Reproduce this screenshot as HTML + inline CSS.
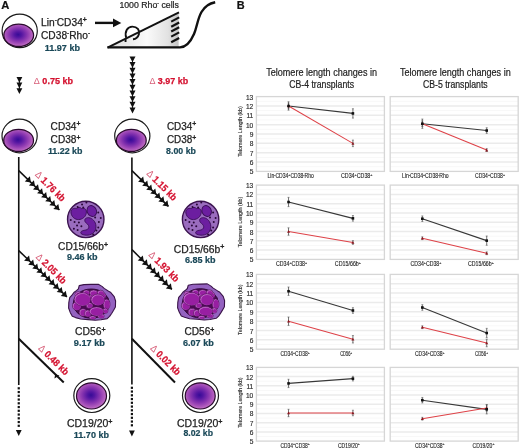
<!DOCTYPE html>
<html><head><meta charset="utf-8"><style>
html,body{margin:0;padding:0;background:#fff;}
body{width:520px;height:448px;overflow:hidden;}
svg{display:block;font-family:"Liberation Sans", sans-serif;will-change:transform;}
</style></head><body>
<svg width="520" height="448" viewBox="0 0 520 448">
<defs>
<radialGradient id="nuc" cx="0.48" cy="0.47" r="0.55">
 <stop offset="0" stop-color="#360c96"/>
 <stop offset="0.22" stop-color="#5416a2"/>
 <stop offset="0.55" stop-color="#8a36b0"/>
 <stop offset="0.85" stop-color="#b45ebe"/>
 <stop offset="1" stop-color="#ca82cc"/>
</radialGradient>
<linearGradient id="tri" x1="0" y1="0" x2="1" y2="0">
 <stop offset="0" stop-color="#dcdcdc"/>
 <stop offset="0.55" stop-color="#fafafa"/>
 <stop offset="0.85" stop-color="#e2e2e2"/>
 <stop offset="1" stop-color="#c4c4c4"/>
</linearGradient>
</defs>
<text x="1.2" y="8.6" font-size="10.6" font-weight="700" fill="#111" stroke="#111" stroke-width="0.2" text-anchor="start" textLength="8.1" lengthAdjust="spacingAndGlyphs" >A</text>
<text x="236.7" y="8.8" font-size="10.4" font-weight="700" fill="#111" stroke="#111" stroke-width="0.2" text-anchor="start" textLength="7.9" lengthAdjust="spacingAndGlyphs" >B</text>
<ellipse cx="19.7" cy="30.9" rx="17.6" ry="16.8" fill="#fff" stroke="#1a1a1a" stroke-width="1.2"/>
<ellipse cx="18.7" cy="35.3" rx="14.9" ry="11.1" fill="url(#nuc)" stroke="#2a0a2e" stroke-width="1.25"/>
<ellipse cx="19.6" cy="136.0" rx="17.6" ry="16.8" fill="#fff" stroke="#1a1a1a" stroke-width="1.2"/>
<ellipse cx="18.6" cy="140.4" rx="14.9" ry="11.1" fill="url(#nuc)" stroke="#2a0a2e" stroke-width="1.25"/>
<ellipse cx="132.3" cy="136.0" rx="17.6" ry="16.8" fill="#fff" stroke="#1a1a1a" stroke-width="1.2"/>
<ellipse cx="131.3" cy="140.4" rx="14.9" ry="11.1" fill="url(#nuc)" stroke="#2a0a2e" stroke-width="1.25"/>
<text x="41" y="25.8" font-size="10.3" fill="#222222" stroke="#222222" stroke-width="0.25" textLength="45.9" lengthAdjust="spacingAndGlyphs">Lin<tspan font-size="6.4" stroke-width="0.3" dy="-4.0">-</tspan><tspan dy="4.0">CD34</tspan><tspan font-size="7" stroke-width="0.4" dy="-3.4">+</tspan></text>
<text x="41" y="39.2" font-size="10.3" fill="#222222" stroke="#222222" stroke-width="0.25" textLength="49.0" lengthAdjust="spacingAndGlyphs">CD38<tspan font-size="6.4" stroke-width="0.3" dy="-4.0">-</tspan><tspan dy="4.0">Rho</tspan><tspan font-size="6.4" stroke-width="0.3" dy="-4.0">-</tspan></text>
<text x="44.7" y="51.3" font-size="8.6" font-weight="700" fill="#1a4858" stroke="#1a4858" stroke-width="0.2" text-anchor="start" textLength="35.3" lengthAdjust="spacingAndGlyphs" >11.97 kb</text>
<text x="50.6" y="129.5" font-size="10.3" fill="#222222" stroke="#222222" stroke-width="0.25" textLength="29.9" lengthAdjust="spacingAndGlyphs">CD34<tspan font-size="7" stroke-width="0.4" dy="-3.4">+</tspan></text>
<text x="50.6" y="143.2" font-size="10.3" fill="#222222" stroke="#222222" stroke-width="0.25" textLength="29.9" lengthAdjust="spacingAndGlyphs">CD38<tspan font-size="7" stroke-width="0.4" dy="-3.4">+</tspan></text>
<text x="166.9" y="129.5" font-size="10.3" fill="#222222" stroke="#222222" stroke-width="0.25" textLength="29.4" lengthAdjust="spacingAndGlyphs">CD34<tspan font-size="7" stroke-width="0.4" dy="-3.4">+</tspan></text>
<text x="166.9" y="143.2" font-size="10.3" fill="#222222" stroke="#222222" stroke-width="0.25" textLength="29.4" lengthAdjust="spacingAndGlyphs">CD38<tspan font-size="7" stroke-width="0.4" dy="-3.4">+</tspan></text>
<text x="47.9" y="153.9" font-size="8.6" font-weight="700" fill="#1a4858" stroke="#1a4858" stroke-width="0.2" text-anchor="start" textLength="34.6" lengthAdjust="spacingAndGlyphs" >11.22 kb</text>
<text x="166.1" y="153.9" font-size="8.6" font-weight="700" fill="#1a4858" stroke="#1a4858" stroke-width="0.2" text-anchor="start" textLength="29.8" lengthAdjust="spacingAndGlyphs" >8.00 kb</text>
<line x1="95" y1="22.9" x2="114.5" y2="22.9" stroke="#111" stroke-width="2.4"/>
<polygon points="113,18.6 121.3,22.9 113,27.2" fill="#111"/>
<text x="119.4" y="7.7" font-size="8.6" fill="#222222" stroke="#222222" stroke-width="0.2" textLength="59.5" lengthAdjust="spacingAndGlyphs">1000 Rho<tspan font-size="5" dy="-3">-</tspan><tspan dy="3"> cells</tspan></text>
<polygon points="108,47.5 178.6,12.6 178.6,47.5" fill="url(#tri)"/>
<line x1="107.5" y1="47.6" x2="179" y2="12.4" stroke="#111" stroke-width="2"/>
<path d="M107.5,47.4 L180,47.4 C186,47.2 190.5,42 194,34 C197,27 197.5,19 201.5,12 C205,6 210,3.3 215.2,2.3" fill="none" stroke="#111" stroke-width="2.4"/>
<line x1="171.2" y1="21.599999999999998" x2="179.2" y2="17.4" stroke="#111" stroke-width="2.1"/>
<line x1="171.2" y1="26.7" x2="179.2" y2="22.5" stroke="#111" stroke-width="2.1"/>
<line x1="171.2" y1="31.5" x2="179.2" y2="27.3" stroke="#111" stroke-width="2.1"/>
<line x1="171.2" y1="36.6" x2="179.2" y2="32.4" stroke="#111" stroke-width="2.1"/>
<line x1="171.2" y1="42.2" x2="179.2" y2="38.0" stroke="#111" stroke-width="2.1"/>
<path d="M126.2,37.8 C124.3,31.5 127.6,26.6 132.4,26.6 C137.3,26.6 140,30.3 138.9,34.2 C137.9,37.5 135.2,39.0 133.0,39.2" fill="none" stroke="#111" stroke-width="1.9"/>
<rect x="124.6" y="39.2" width="1.9" height="2.8" fill="#111"/>
<polygon points="16.5,77.0 22.299999999999997,77.0 19.4,82.8" fill="#111"/>
<polygon points="16.5,82.6 22.299999999999997,82.6 19.4,88.39999999999999" fill="#111"/>
<polygon points="16.5,88.2 22.299999999999997,88.2 19.4,94.0" fill="#111"/>
<polygon points="129.5,56.4 135.5,56.4 132.5,62.3" fill="#111"/>
<polygon points="129.5,62.08 135.5,62.08 132.5,67.98" fill="#111"/>
<polygon points="129.5,67.75999999999999 135.5,67.75999999999999 132.5,73.66" fill="#111"/>
<polygon points="129.5,73.44 135.5,73.44 132.5,79.34" fill="#111"/>
<polygon points="129.5,79.12 135.5,79.12 132.5,85.02000000000001" fill="#111"/>
<polygon points="129.5,84.8 135.5,84.8 132.5,90.7" fill="#111"/>
<polygon points="129.5,90.47999999999999 135.5,90.47999999999999 132.5,96.38" fill="#111"/>
<polygon points="129.5,96.16 135.5,96.16 132.5,102.06" fill="#111"/>
<polygon points="129.5,101.84 135.5,101.84 132.5,107.74000000000001" fill="#111"/>
<polygon points="129.5,107.52 135.5,107.52 132.5,113.42" fill="#111"/>
<line x1="19.4" y1="78" x2="19.4" y2="92" stroke="#111" stroke-width="1"/>
<line x1="132.5" y1="57.5" x2="132.5" y2="110" stroke="#111" stroke-width="1"/>
<text x="33.8" y="84.0" font-size="8.7" font-weight="700" fill="#d41230" stroke="#d41230" stroke-width="0.25" text-anchor="start" textLength="39.2" lengthAdjust="spacingAndGlyphs"><tspan font-weight="400" fill="#d8607a" stroke="none">Δ</tspan> 0.75 kb</text>
<text x="149.4" y="84.0" font-size="8.7" font-weight="700" fill="#d41230" stroke="#d41230" stroke-width="0.25" text-anchor="start" textLength="38.7" lengthAdjust="spacingAndGlyphs"><tspan font-weight="400" fill="#d8607a" stroke="none">Δ</tspan> 3.97 kb</text>
<line x1="18.75" y1="157" x2="18.75" y2="385" stroke="#111" stroke-width="1.6"/>
<rect x="17.65" y="387.2" width="2.2" height="2.2" fill="#111"/>
<rect x="17.65" y="390.95" width="2.2" height="2.2" fill="#111"/>
<rect x="17.65" y="394.7" width="2.2" height="2.2" fill="#111"/>
<rect x="17.65" y="398.45" width="2.2" height="2.2" fill="#111"/>
<rect x="17.65" y="402.2" width="2.2" height="2.2" fill="#111"/>
<rect x="17.65" y="405.95" width="2.2" height="2.2" fill="#111"/>
<rect x="17.65" y="409.7" width="2.2" height="2.2" fill="#111"/>
<rect x="17.65" y="413.45" width="2.2" height="2.2" fill="#111"/>
<rect x="17.65" y="417.2" width="2.2" height="2.2" fill="#111"/>
<rect x="17.65" y="420.95" width="2.2" height="2.2" fill="#111"/>
<rect x="17.65" y="424.7" width="2.2" height="2.2" fill="#111"/>
<polygon points="15.85,430 21.65,430 18.75,436" fill="#111"/>
<line x1="131.9" y1="157.5" x2="131.9" y2="384.5" stroke="#111" stroke-width="1.6"/>
<rect x="130.8" y="386.7" width="2.2" height="2.2" fill="#111"/>
<rect x="130.8" y="390.45" width="2.2" height="2.2" fill="#111"/>
<rect x="130.8" y="394.2" width="2.2" height="2.2" fill="#111"/>
<rect x="130.8" y="397.95" width="2.2" height="2.2" fill="#111"/>
<rect x="130.8" y="401.7" width="2.2" height="2.2" fill="#111"/>
<rect x="130.8" y="405.45" width="2.2" height="2.2" fill="#111"/>
<rect x="130.8" y="409.2" width="2.2" height="2.2" fill="#111"/>
<rect x="130.8" y="412.95" width="2.2" height="2.2" fill="#111"/>
<rect x="130.8" y="416.7" width="2.2" height="2.2" fill="#111"/>
<rect x="130.8" y="420.45" width="2.2" height="2.2" fill="#111"/>
<rect x="130.8" y="424.2" width="2.2" height="2.2" fill="#111"/>
<polygon points="129.0,430.5 134.8,430.5 131.9,436.5" fill="#111"/>
<line x1="18.75" y1="170.6" x2="59.4" y2="210.0" stroke="#111" stroke-width="1.5"/>
<polygon points="59.40,210.00 53.30,209.11 58.32,203.94" fill="#111"/>
<polygon points="55.34,206.06 49.24,205.17 54.25,200.00" fill="#111"/>
<polygon points="51.27,202.12 45.18,201.23 50.19,196.06" fill="#111"/>
<polygon points="47.21,198.18 41.11,197.29 46.12,192.12" fill="#111"/>
<polygon points="43.14,194.24 37.05,193.35 42.06,188.18" fill="#111"/>
<polygon points="39.08,190.30 32.98,189.41 37.99,184.24" fill="#111"/>
<polygon points="35.01,186.36 28.92,185.47 33.93,180.30" fill="#111"/>
<polygon points="30.95,182.43 24.85,181.53 29.87,176.36" fill="#111"/>
<line x1="18.75" y1="250.6" x2="66.9" y2="296.9" stroke="#111" stroke-width="1.5"/>
<polygon points="66.90,296.90 60.80,296.03 65.79,290.84" fill="#111"/>
<polygon points="62.82,292.98 56.72,292.11 61.71,286.92" fill="#111"/>
<polygon points="58.74,289.05 52.64,288.18 57.63,282.99" fill="#111"/>
<polygon points="54.66,285.13 48.56,284.26 53.55,279.07" fill="#111"/>
<polygon points="50.58,281.21 44.48,280.34 49.47,275.15" fill="#111"/>
<polygon points="46.50,277.28 40.40,276.41 45.39,271.22" fill="#111"/>
<polygon points="42.42,273.36 36.32,272.49 41.31,267.30" fill="#111"/>
<polygon points="38.34,269.44 32.24,268.57 37.23,263.38" fill="#111"/>
<polygon points="34.26,265.52 28.16,264.64 33.15,259.45" fill="#111"/>
<polygon points="30.18,261.59 24.08,260.72 29.07,255.53" fill="#111"/>
<line x1="18.75" y1="338.75" x2="63.75" y2="382.5" stroke="#111" stroke-width="2"/>
<line x1="131.9" y1="170.6" x2="168.5" y2="206.4" stroke="#111" stroke-width="1.5"/>
<polygon points="168.50,206.40 162.41,205.48 167.44,200.33" fill="#111"/>
<polygon points="164.45,202.44 158.36,201.52 163.40,196.37" fill="#111"/>
<polygon points="160.41,198.48 154.32,197.56 159.35,192.41" fill="#111"/>
<polygon points="156.36,194.53 150.27,193.60 155.30,188.46" fill="#111"/>
<polygon points="152.32,190.57 146.22,189.65 151.26,184.50" fill="#111"/>
<polygon points="148.27,186.61 142.18,185.69 147.21,180.54" fill="#111"/>
<polygon points="144.22,182.65 138.13,181.73 143.17,176.58" fill="#111"/>
<line x1="131.9" y1="249.6" x2="171.9" y2="289.4" stroke="#111" stroke-width="1.5"/>
<polygon points="171.90,289.40 165.82,288.43 170.89,283.32" fill="#111"/>
<polygon points="167.89,285.41 161.80,284.43 166.88,279.33" fill="#111"/>
<polygon points="163.88,281.42 157.79,280.44 162.87,275.34" fill="#111"/>
<polygon points="159.86,277.42 153.78,276.45 158.86,271.34" fill="#111"/>
<polygon points="155.85,273.43 149.77,272.46 154.85,267.35" fill="#111"/>
<polygon points="151.84,269.44 145.76,268.46 150.83,263.36" fill="#111"/>
<polygon points="147.83,265.45 141.74,264.47 146.82,259.37" fill="#111"/>
<polygon points="143.81,261.45 137.73,260.48 142.81,255.38" fill="#111"/>
<line x1="131.9" y1="338.75" x2="175.0" y2="382.5" stroke="#111" stroke-width="2"/>
<polygon points="54.4,378.4 59.5,375.6 55.2,374.3" fill="#111"/>
<text x="50.4" y="189.6" font-size="9.8" font-weight="700" fill="#d41230" stroke="#d41230" stroke-width="0.25" text-anchor="middle" textLength="38.5" lengthAdjust="spacingAndGlyphs" transform="rotate(45 50.4 186.2)"><tspan font-weight="400" fill="#d8607a" stroke="none">Δ</tspan> 1.76 kb</text>
<text x="51.3" y="271.99999999999994" font-size="9.8" font-weight="700" fill="#d41230" stroke="#d41230" stroke-width="0.25" text-anchor="middle" textLength="38.5" lengthAdjust="spacingAndGlyphs" transform="rotate(45 51.3 268.59999999999997)"><tspan font-weight="400" fill="#d8607a" stroke="none">Δ</tspan> 2.05 kb</text>
<text x="53.8" y="363.34999999999997" font-size="9.8" font-weight="700" fill="#d41230" stroke="#d41230" stroke-width="0.25" text-anchor="middle" textLength="38.5" lengthAdjust="spacingAndGlyphs" transform="rotate(45 53.8 359.95)"><tspan font-weight="400" fill="#d8607a" stroke="none">Δ</tspan> 0.48 kb</text>
<text x="161.9" y="188.7" font-size="9.8" font-weight="700" fill="#d41230" stroke="#d41230" stroke-width="0.25" text-anchor="middle" textLength="38.5" lengthAdjust="spacingAndGlyphs" transform="rotate(45 161.9 185.29999999999998)"><tspan font-weight="400" fill="#d8607a" stroke="none">Δ</tspan> 1.15 kb</text>
<text x="164.05" y="269.9" font-size="9.8" font-weight="700" fill="#d41230" stroke="#d41230" stroke-width="0.25" text-anchor="middle" textLength="38.5" lengthAdjust="spacingAndGlyphs" transform="rotate(45 164.05 266.5)"><tspan font-weight="400" fill="#d8607a" stroke="none">Δ</tspan> 1.93 kb</text>
<text x="165.70000000000002" y="363.34999999999997" font-size="9.8" font-weight="700" fill="#d41230" stroke="#d41230" stroke-width="0.25" text-anchor="middle" textLength="38.5" lengthAdjust="spacingAndGlyphs" transform="rotate(45 165.70000000000002 359.95)"><tspan font-weight="400" fill="#d8607a" stroke="none">Δ</tspan> 0.02 kb</text>
<g transform="translate(0.0 0.0)"><circle cx="85.75" cy="219.4" r="18.2" fill="#9a6cbe" stroke="#3c1450" stroke-width="1.4"/><path d="M71,213 C70.5,209.5 73.5,207.6 76.5,208.6 C78,206.8 80.5,207.2 81.5,208.6 C83.8,207.6 86.6,209 86.4,212 C86.3,215.5 84,218.5 80,219.4 C76.5,220.2 72,218.2 71,213 Z" fill="#6c1ea0" stroke="#3a0c58" stroke-width="0.9"/><ellipse cx="91.8" cy="211" rx="4.6" ry="5.6" transform="rotate(-25 91.8 211)" fill="#6c1ea0" stroke="#3a0c58" stroke-width="0.9"/><path d="M85.5,218.6 C88,216.6 92,217.8 94.5,221.5 C97,225.5 96.3,231 92.5,233.5 C88.8,236 83.5,235.5 81,233.5 C80,231.5 82.5,230.5 85,230.2 C88,229.8 89.5,227.8 88.5,225.5 C87.5,223.5 85.5,223 85,221.5 C84.6,220.3 84.8,219.2 85.5,218.6 Z" fill="#6c1ea0" stroke="#3a0c58" stroke-width="0.9"/><circle cx="77.65" cy="206.9" r="1.0" fill="#2a0838"/><circle cx="82.05" cy="204.4" r="1.0" fill="#2a0838"/><circle cx="86.4" cy="202.5" r="1.0" fill="#2a0838"/><circle cx="83.25" cy="207.5" r="1.0" fill="#2a0838"/><circle cx="98.25" cy="212.5" r="1.0" fill="#2a0838"/><circle cx="100.75" cy="218.1" r="1.0" fill="#2a0838"/><circle cx="98.9" cy="221.9" r="1.0" fill="#2a0838"/><circle cx="98.25" cy="227.5" r="1.0" fill="#2a0838"/><circle cx="96.4" cy="230.6" r="1.0" fill="#2a0838"/><circle cx="93.25" cy="234.4" r="1.0" fill="#2a0838"/><circle cx="70.75" cy="220" r="1.0" fill="#2a0838"/><circle cx="74.55" cy="221.9" r="1.0" fill="#2a0838"/><circle cx="78.9" cy="222.5" r="1.0" fill="#2a0838"/><circle cx="77.05" cy="225.6" r="1.0" fill="#2a0838"/><circle cx="81.4" cy="226.25" r="1.0" fill="#2a0838"/><circle cx="73.9" cy="228.75" r="1.0" fill="#2a0838"/><circle cx="77.65" cy="230" r="1.0" fill="#2a0838"/><circle cx="95.15" cy="217.5" r="1.0" fill="#2a0838"/></g>
<g transform="translate(114.85 0.0)"><circle cx="85.75" cy="219.4" r="18.2" fill="#9a6cbe" stroke="#3c1450" stroke-width="1.4"/><path d="M71,213 C70.5,209.5 73.5,207.6 76.5,208.6 C78,206.8 80.5,207.2 81.5,208.6 C83.8,207.6 86.6,209 86.4,212 C86.3,215.5 84,218.5 80,219.4 C76.5,220.2 72,218.2 71,213 Z" fill="#6c1ea0" stroke="#3a0c58" stroke-width="0.9"/><ellipse cx="91.8" cy="211" rx="4.6" ry="5.6" transform="rotate(-25 91.8 211)" fill="#6c1ea0" stroke="#3a0c58" stroke-width="0.9"/><path d="M85.5,218.6 C88,216.6 92,217.8 94.5,221.5 C97,225.5 96.3,231 92.5,233.5 C88.8,236 83.5,235.5 81,233.5 C80,231.5 82.5,230.5 85,230.2 C88,229.8 89.5,227.8 88.5,225.5 C87.5,223.5 85.5,223 85,221.5 C84.6,220.3 84.8,219.2 85.5,218.6 Z" fill="#6c1ea0" stroke="#3a0c58" stroke-width="0.9"/><circle cx="77.65" cy="206.9" r="1.0" fill="#2a0838"/><circle cx="82.05" cy="204.4" r="1.0" fill="#2a0838"/><circle cx="86.4" cy="202.5" r="1.0" fill="#2a0838"/><circle cx="83.25" cy="207.5" r="1.0" fill="#2a0838"/><circle cx="98.25" cy="212.5" r="1.0" fill="#2a0838"/><circle cx="100.75" cy="218.1" r="1.0" fill="#2a0838"/><circle cx="98.9" cy="221.9" r="1.0" fill="#2a0838"/><circle cx="98.25" cy="227.5" r="1.0" fill="#2a0838"/><circle cx="96.4" cy="230.6" r="1.0" fill="#2a0838"/><circle cx="93.25" cy="234.4" r="1.0" fill="#2a0838"/><circle cx="70.75" cy="220" r="1.0" fill="#2a0838"/><circle cx="74.55" cy="221.9" r="1.0" fill="#2a0838"/><circle cx="78.9" cy="222.5" r="1.0" fill="#2a0838"/><circle cx="77.05" cy="225.6" r="1.0" fill="#2a0838"/><circle cx="81.4" cy="226.25" r="1.0" fill="#2a0838"/><circle cx="73.9" cy="228.75" r="1.0" fill="#2a0838"/><circle cx="77.65" cy="230" r="1.0" fill="#2a0838"/><circle cx="95.15" cy="217.5" r="1.0" fill="#2a0838"/></g>
<g transform="translate(0 0)"><path d="M79.2,285.6 L84,284.6 L91,284.4 L98.3,284.2 L102,286.4 L104.2,288.4 L108.6,291.2 L110.4,292.2 L114.2,296.6 L115.6,301 L115.4,307 L113.6,310.2 L111.8,313.2 L109.6,316.4 L107.2,318.6 L101,319.8 L95.2,320.3 L88,319.6 L80.6,319 L75.6,317.6 L72.3,316.3 L70.2,312.4 L68.6,308 L68.8,302.6 L69.7,297.7 L72.4,294.6 L73.9,292.5 L76.4,290.6 L78.4,288.8 Z" fill="#9462c0" stroke="#3a1448" stroke-width="1.1" stroke-linejoin="round"/><ellipse cx="91.3" cy="303.6" rx="18.1" ry="14.6" fill="#4a0a52" stroke="#2a0630" stroke-width="0.9"/><ellipse cx="89.5" cy="305.5" rx="3.30" ry="2.86" fill="#c870d0" stroke="#4a0a52" stroke-width="0.6"/><ellipse cx="89.95" cy="305.9" rx="2.55" ry="2.16" fill="#981fa2"/><ellipse cx="91" cy="297" rx="2.42" ry="2.20" fill="#c870d0" stroke="#4a0a52" stroke-width="0.6"/><ellipse cx="91.45" cy="297.4" rx="1.67" ry="1.50" fill="#981fa2"/><ellipse cx="103" cy="295.5" rx="2.86" ry="2.86" fill="#c870d0" stroke="#4a0a52" stroke-width="0.6"/><ellipse cx="103.45" cy="295.9" rx="2.11" ry="2.16" fill="#981fa2"/><ellipse cx="78.2" cy="294.5" rx="3.30" ry="2.86" fill="#c870d0" stroke="#4a0a52" stroke-width="0.6"/><ellipse cx="78.65" cy="294.9" rx="2.55" ry="2.16" fill="#981fa2"/><ellipse cx="101" cy="316" rx="3.30" ry="2.20" fill="#c870d0" stroke="#4a0a52" stroke-width="0.6"/><ellipse cx="101.45" cy="316.4" rx="2.55" ry="1.50" fill="#981fa2"/><ellipse cx="92.5" cy="317.6" rx="3.30" ry="1.76" fill="#c870d0" stroke="#4a0a52" stroke-width="0.6"/><ellipse cx="92.95" cy="318.0" rx="2.55" ry="1.06" fill="#981fa2"/><ellipse cx="93.6" cy="293" rx="3.96" ry="2.97" fill="#c870d0" stroke="#4a0a52" stroke-width="0.6"/><ellipse cx="94.05" cy="293.4" rx="3.21" ry="2.27" fill="#981fa2"/><ellipse cx="86.2" cy="292.6" rx="3.30" ry="2.64" fill="#c870d0" stroke="#4a0a52" stroke-width="0.6"/><ellipse cx="86.65" cy="293.0" rx="2.55" ry="1.94" fill="#981fa2"/><ellipse cx="100.6" cy="292.8" rx="3.30" ry="2.64" fill="#c870d0" stroke="#4a0a52" stroke-width="0.6"/><ellipse cx="101.05" cy="293.2" rx="2.55" ry="1.94" fill="#981fa2"/><ellipse cx="76.7" cy="306" rx="4.29" ry="4.29" fill="#c870d0" stroke="#4a0a52" stroke-width="0.6"/><ellipse cx="77.15" cy="306.4" rx="3.54" ry="3.59" fill="#981fa2"/><ellipse cx="83" cy="312.4" rx="3.85" ry="3.74" fill="#c870d0" stroke="#4a0a52" stroke-width="0.6"/><ellipse cx="83.45" cy="312.79999999999995" rx="3.10" ry="3.04" fill="#981fa2"/><ellipse cx="87.7" cy="313.4" rx="3.30" ry="3.30" fill="#c870d0" stroke="#4a0a52" stroke-width="0.6"/><ellipse cx="88.15" cy="313.79999999999995" rx="2.55" ry="2.60" fill="#981fa2"/><ellipse cx="106.6" cy="304.3" rx="3.41" ry="5.06" fill="#c870d0" stroke="#4a0a52" stroke-width="0.6"/><ellipse cx="107.05" cy="304.7" rx="2.66" ry="4.36" fill="#981fa2"/><ellipse cx="105.3" cy="310.8" rx="2.64" ry="2.64" fill="#c870d0" stroke="#4a0a52" stroke-width="0.6"/><ellipse cx="105.75" cy="311.2" rx="1.89" ry="1.94" fill="#981fa2"/><ellipse cx="82.4" cy="299.3" rx="8.25" ry="6.60" fill="#c870d0" stroke="#4a0a52" stroke-width="0.6"/><ellipse cx="82.85000000000001" cy="299.7" rx="7.50" ry="5.90" fill="#981fa2"/><ellipse cx="97.8" cy="299.8" rx="6.82" ry="5.72" fill="#c870d0" stroke="#4a0a52" stroke-width="0.6"/><ellipse cx="98.25" cy="300.2" rx="6.07" ry="5.02" fill="#981fa2"/><ellipse cx="96.5" cy="311.4" rx="7.15" ry="4.51" fill="#c870d0" stroke="#4a0a52" stroke-width="0.6"/><ellipse cx="96.95" cy="311.79999999999995" rx="6.40" ry="3.81" fill="#981fa2"/></g>
<g transform="translate(109 -0.3)"><path d="M79.2,285.6 L84,284.6 L91,284.4 L98.3,284.2 L102,286.4 L104.2,288.4 L108.6,291.2 L110.4,292.2 L114.2,296.6 L115.6,301 L115.4,307 L113.6,310.2 L111.8,313.2 L109.6,316.4 L107.2,318.6 L101,319.8 L95.2,320.3 L88,319.6 L80.6,319 L75.6,317.6 L72.3,316.3 L70.2,312.4 L68.6,308 L68.8,302.6 L69.7,297.7 L72.4,294.6 L73.9,292.5 L76.4,290.6 L78.4,288.8 Z" fill="#9462c0" stroke="#3a1448" stroke-width="1.1" stroke-linejoin="round"/><ellipse cx="91.3" cy="303.6" rx="18.1" ry="14.6" fill="#4a0a52" stroke="#2a0630" stroke-width="0.9"/><ellipse cx="89.5" cy="305.5" rx="3.30" ry="2.86" fill="#c870d0" stroke="#4a0a52" stroke-width="0.6"/><ellipse cx="89.95" cy="305.9" rx="2.55" ry="2.16" fill="#981fa2"/><ellipse cx="91" cy="297" rx="2.42" ry="2.20" fill="#c870d0" stroke="#4a0a52" stroke-width="0.6"/><ellipse cx="91.45" cy="297.4" rx="1.67" ry="1.50" fill="#981fa2"/><ellipse cx="103" cy="295.5" rx="2.86" ry="2.86" fill="#c870d0" stroke="#4a0a52" stroke-width="0.6"/><ellipse cx="103.45" cy="295.9" rx="2.11" ry="2.16" fill="#981fa2"/><ellipse cx="78.2" cy="294.5" rx="3.30" ry="2.86" fill="#c870d0" stroke="#4a0a52" stroke-width="0.6"/><ellipse cx="78.65" cy="294.9" rx="2.55" ry="2.16" fill="#981fa2"/><ellipse cx="101" cy="316" rx="3.30" ry="2.20" fill="#c870d0" stroke="#4a0a52" stroke-width="0.6"/><ellipse cx="101.45" cy="316.4" rx="2.55" ry="1.50" fill="#981fa2"/><ellipse cx="92.5" cy="317.6" rx="3.30" ry="1.76" fill="#c870d0" stroke="#4a0a52" stroke-width="0.6"/><ellipse cx="92.95" cy="318.0" rx="2.55" ry="1.06" fill="#981fa2"/><ellipse cx="93.6" cy="293" rx="3.96" ry="2.97" fill="#c870d0" stroke="#4a0a52" stroke-width="0.6"/><ellipse cx="94.05" cy="293.4" rx="3.21" ry="2.27" fill="#981fa2"/><ellipse cx="86.2" cy="292.6" rx="3.30" ry="2.64" fill="#c870d0" stroke="#4a0a52" stroke-width="0.6"/><ellipse cx="86.65" cy="293.0" rx="2.55" ry="1.94" fill="#981fa2"/><ellipse cx="100.6" cy="292.8" rx="3.30" ry="2.64" fill="#c870d0" stroke="#4a0a52" stroke-width="0.6"/><ellipse cx="101.05" cy="293.2" rx="2.55" ry="1.94" fill="#981fa2"/><ellipse cx="76.7" cy="306" rx="4.29" ry="4.29" fill="#c870d0" stroke="#4a0a52" stroke-width="0.6"/><ellipse cx="77.15" cy="306.4" rx="3.54" ry="3.59" fill="#981fa2"/><ellipse cx="83" cy="312.4" rx="3.85" ry="3.74" fill="#c870d0" stroke="#4a0a52" stroke-width="0.6"/><ellipse cx="83.45" cy="312.79999999999995" rx="3.10" ry="3.04" fill="#981fa2"/><ellipse cx="87.7" cy="313.4" rx="3.30" ry="3.30" fill="#c870d0" stroke="#4a0a52" stroke-width="0.6"/><ellipse cx="88.15" cy="313.79999999999995" rx="2.55" ry="2.60" fill="#981fa2"/><ellipse cx="106.6" cy="304.3" rx="3.41" ry="5.06" fill="#c870d0" stroke="#4a0a52" stroke-width="0.6"/><ellipse cx="107.05" cy="304.7" rx="2.66" ry="4.36" fill="#981fa2"/><ellipse cx="105.3" cy="310.8" rx="2.64" ry="2.64" fill="#c870d0" stroke="#4a0a52" stroke-width="0.6"/><ellipse cx="105.75" cy="311.2" rx="1.89" ry="1.94" fill="#981fa2"/><ellipse cx="82.4" cy="299.3" rx="8.25" ry="6.60" fill="#c870d0" stroke="#4a0a52" stroke-width="0.6"/><ellipse cx="82.85000000000001" cy="299.7" rx="7.50" ry="5.90" fill="#981fa2"/><ellipse cx="97.8" cy="299.8" rx="6.82" ry="5.72" fill="#c870d0" stroke="#4a0a52" stroke-width="0.6"/><ellipse cx="98.25" cy="300.2" rx="6.07" ry="5.02" fill="#981fa2"/><ellipse cx="96.5" cy="311.4" rx="7.15" ry="4.51" fill="#c870d0" stroke="#4a0a52" stroke-width="0.6"/><ellipse cx="96.95" cy="311.79999999999995" rx="6.40" ry="3.81" fill="#981fa2"/></g>
<ellipse cx="91.8" cy="395.6" rx="18" ry="16.9" fill="#fff" stroke="#1a1a1a" stroke-width="1.2"/>
<ellipse cx="91.5" cy="395.90000000000003" rx="15.0" ry="13.1" fill="url(#nuc)" stroke="#2a0a2e" stroke-width="1.2"/>
<ellipse cx="200.5" cy="395.6" rx="18" ry="16.9" fill="#fff" stroke="#1a1a1a" stroke-width="1.2"/>
<ellipse cx="200.2" cy="395.90000000000003" rx="15.0" ry="13.1" fill="url(#nuc)" stroke="#2a0a2e" stroke-width="1.2"/>
<text x="58.1" y="250.3" font-size="10.3" fill="#222222" stroke="#222222" stroke-width="0.25" textLength="49.9" lengthAdjust="spacingAndGlyphs">CD15/66b<tspan font-size="7" stroke-width="0.4" dy="-3.4">+</tspan></text>
<text x="66.9" y="260.2" font-size="8.6" font-weight="700" fill="#1a4858" stroke="#1a4858" stroke-width="0.2" text-anchor="start" textLength="30.6" lengthAdjust="spacingAndGlyphs" >9.46 kb</text>
<text x="173.8" y="252.7" font-size="10.3" fill="#222222" stroke="#222222" stroke-width="0.25" textLength="50.6" lengthAdjust="spacingAndGlyphs">CD15/66b<tspan font-size="7" stroke-width="0.4" dy="-3.4">+</tspan></text>
<text x="185.0" y="263.3" font-size="8.6" font-weight="700" fill="#1a4858" stroke="#1a4858" stroke-width="0.2" text-anchor="start" textLength="30.6" lengthAdjust="spacingAndGlyphs" >6.85 kb</text>
<text x="75.0" y="335.3" font-size="10.3" fill="#222222" stroke="#222222" stroke-width="0.25" textLength="30.6" lengthAdjust="spacingAndGlyphs">CD56<tspan font-size="7" stroke-width="0.4" dy="-3.4">+</tspan></text>
<text x="73.8" y="345.8" font-size="8.6" font-weight="700" fill="#1a4858" stroke="#1a4858" stroke-width="0.2" text-anchor="start" textLength="31.2" lengthAdjust="spacingAndGlyphs" >9.17 kb</text>
<text x="184.4" y="335.3" font-size="10.3" fill="#222222" stroke="#222222" stroke-width="0.25" textLength="30.0" lengthAdjust="spacingAndGlyphs">CD56<tspan font-size="7" stroke-width="0.4" dy="-3.4">+</tspan></text>
<text x="183.0" y="345.6" font-size="8.6" font-weight="700" fill="#1a4858" stroke="#1a4858" stroke-width="0.2" text-anchor="start" textLength="30.8" lengthAdjust="spacingAndGlyphs" >6.07 kb</text>
<text x="66.9" y="426.9" font-size="10.3" fill="#222222" stroke="#222222" stroke-width="0.25" textLength="45.6" lengthAdjust="spacingAndGlyphs">CD19/20<tspan font-size="7" stroke-width="0.4" dy="-3.4">+</tspan></text>
<text x="73.8" y="437.8" font-size="8.6" font-weight="700" fill="#1a4858" stroke="#1a4858" stroke-width="0.2" text-anchor="start" textLength="35.2" lengthAdjust="spacingAndGlyphs" >11.70 kb</text>
<text x="176.9" y="427.0" font-size="10.3" fill="#222222" stroke="#222222" stroke-width="0.25" textLength="45.6" lengthAdjust="spacingAndGlyphs">CD19/20<tspan font-size="7" stroke-width="0.4" dy="-3.4">+</tspan></text>
<text x="183.5" y="435.8" font-size="8.6" font-weight="700" fill="#1a4858" stroke="#1a4858" stroke-width="0.2" text-anchor="start" textLength="29.5" lengthAdjust="spacingAndGlyphs" >8.02 kb</text>
<text x="321.6" y="76.3" font-size="10.2" font-weight="400" fill="#222222" stroke="#222222" stroke-width="0.2" text-anchor="middle" textLength="110.8" lengthAdjust="spacingAndGlyphs" >Telomere length changes in</text>
<text x="321.6" y="87.6" font-size="10.2" font-weight="400" fill="#222222" stroke="#222222" stroke-width="0.2" text-anchor="middle" textLength="64.8" lengthAdjust="spacingAndGlyphs" >CB-4 transplants</text>
<text x="455.3" y="76.3" font-size="10.2" font-weight="400" fill="#222222" stroke="#222222" stroke-width="0.2" text-anchor="middle" textLength="110.8" lengthAdjust="spacingAndGlyphs" >Telomere length changes in</text>
<text x="455.3" y="87.6" font-size="10.2" font-weight="400" fill="#222222" stroke="#222222" stroke-width="0.2" text-anchor="middle" textLength="64.8" lengthAdjust="spacingAndGlyphs" >CB-5 transplants</text>
<g>
<line x1="256.4" y1="101.27" x2="384.4" y2="101.27" stroke="#f8f8f8" stroke-width="1"/>
<line x1="256.4" y1="110.62" x2="384.4" y2="110.62" stroke="#f8f8f8" stroke-width="1"/>
<line x1="256.4" y1="119.97" x2="384.4" y2="119.97" stroke="#f8f8f8" stroke-width="1"/>
<line x1="256.4" y1="129.32" x2="384.4" y2="129.32" stroke="#f8f8f8" stroke-width="1"/>
<line x1="256.4" y1="138.68" x2="384.4" y2="138.68" stroke="#f8f8f8" stroke-width="1"/>
<line x1="256.4" y1="148.03" x2="384.4" y2="148.03" stroke="#f8f8f8" stroke-width="1"/>
<line x1="256.4" y1="157.38" x2="384.4" y2="157.38" stroke="#f8f8f8" stroke-width="1"/>
<line x1="256.4" y1="166.73" x2="384.4" y2="166.73" stroke="#f8f8f8" stroke-width="1"/>
<line x1="256.4" y1="105.95" x2="384.4" y2="105.95" stroke="#ebebeb" stroke-width="1.5"/>
<line x1="256.4" y1="115.30" x2="384.4" y2="115.30" stroke="#ebebeb" stroke-width="1.5"/>
<line x1="256.4" y1="124.65" x2="384.4" y2="124.65" stroke="#ebebeb" stroke-width="1.5"/>
<line x1="256.4" y1="134.00" x2="384.4" y2="134.00" stroke="#ebebeb" stroke-width="1.5"/>
<line x1="256.4" y1="143.35" x2="384.4" y2="143.35" stroke="#ebebeb" stroke-width="1.5"/>
<line x1="256.4" y1="152.70" x2="384.4" y2="152.70" stroke="#ebebeb" stroke-width="1.5"/>
<line x1="256.4" y1="162.05" x2="384.4" y2="162.05" stroke="#ebebeb" stroke-width="1.5"/>
<rect x="256.4" y="96.6" width="128.0" height="74.80000000000001" fill="none" stroke="#d6d6d6" stroke-width="1.3"/>
<line x1="288.53" y1="105.95" x2="352.91" y2="113.43" stroke="#383838" stroke-width="1.15"/>
<line x1="288.53" y1="105.95" x2="352.91" y2="143.35" stroke="#de4248" stroke-width="1.05"/>
<line x1="288.53" y1="101.74" x2="288.53" y2="110.16" stroke="#444" stroke-width="0.75"/>
<line x1="287.53" y1="101.74" x2="289.53" y2="101.74" stroke="#555" stroke-width="0.6"/>
<line x1="287.53" y1="110.16" x2="289.53" y2="110.16" stroke="#555" stroke-width="0.6"/>
<line x1="352.91" y1="108.75" x2="352.91" y2="118.11" stroke="#444" stroke-width="0.75"/>
<line x1="351.91" y1="108.75" x2="353.91" y2="108.75" stroke="#555" stroke-width="0.6"/>
<line x1="351.91" y1="118.11" x2="353.91" y2="118.11" stroke="#555" stroke-width="0.6"/>
<line x1="288.53" y1="103.14" x2="288.53" y2="108.75" stroke="#444" stroke-width="0.75"/>
<line x1="287.53" y1="103.14" x2="289.53" y2="103.14" stroke="#555" stroke-width="0.6"/>
<line x1="287.53" y1="108.75" x2="289.53" y2="108.75" stroke="#555" stroke-width="0.6"/>
<line x1="352.91" y1="140.08" x2="352.91" y2="146.62" stroke="#444" stroke-width="0.75"/>
<line x1="351.91" y1="140.08" x2="353.91" y2="140.08" stroke="#555" stroke-width="0.6"/>
<line x1="351.91" y1="146.62" x2="353.91" y2="146.62" stroke="#555" stroke-width="0.6"/>
<polygon points="287.03,107.25 290.03,107.25 288.53,104.45" fill="#8a1820"/>
<polygon points="351.41,144.65 354.41,144.65 352.91,141.85" fill="#8a1820"/>
<rect x="287.23" y="104.65" width="2.6" height="2.6" fill="#111"/>
<rect x="351.61" y="112.13" width="2.6" height="2.6" fill="#111"/>
</g>
<g>
<line x1="390.2" y1="101.27" x2="518.2" y2="101.27" stroke="#f8f8f8" stroke-width="1"/>
<line x1="390.2" y1="110.62" x2="518.2" y2="110.62" stroke="#f8f8f8" stroke-width="1"/>
<line x1="390.2" y1="119.97" x2="518.2" y2="119.97" stroke="#f8f8f8" stroke-width="1"/>
<line x1="390.2" y1="129.32" x2="518.2" y2="129.32" stroke="#f8f8f8" stroke-width="1"/>
<line x1="390.2" y1="138.68" x2="518.2" y2="138.68" stroke="#f8f8f8" stroke-width="1"/>
<line x1="390.2" y1="148.03" x2="518.2" y2="148.03" stroke="#f8f8f8" stroke-width="1"/>
<line x1="390.2" y1="157.38" x2="518.2" y2="157.38" stroke="#f8f8f8" stroke-width="1"/>
<line x1="390.2" y1="166.73" x2="518.2" y2="166.73" stroke="#f8f8f8" stroke-width="1"/>
<line x1="390.2" y1="105.95" x2="518.2" y2="105.95" stroke="#ebebeb" stroke-width="1.5"/>
<line x1="390.2" y1="115.30" x2="518.2" y2="115.30" stroke="#ebebeb" stroke-width="1.5"/>
<line x1="390.2" y1="124.65" x2="518.2" y2="124.65" stroke="#ebebeb" stroke-width="1.5"/>
<line x1="390.2" y1="134.00" x2="518.2" y2="134.00" stroke="#ebebeb" stroke-width="1.5"/>
<line x1="390.2" y1="143.35" x2="518.2" y2="143.35" stroke="#ebebeb" stroke-width="1.5"/>
<line x1="390.2" y1="152.70" x2="518.2" y2="152.70" stroke="#ebebeb" stroke-width="1.5"/>
<line x1="390.2" y1="162.05" x2="518.2" y2="162.05" stroke="#ebebeb" stroke-width="1.5"/>
<rect x="390.2" y="96.6" width="128.00000000000006" height="74.80000000000001" fill="none" stroke="#d6d6d6" stroke-width="1.3"/>
<line x1="422.33" y1="123.72" x2="486.71" y2="130.54" stroke="#383838" stroke-width="1.15"/>
<line x1="422.33" y1="123.72" x2="486.71" y2="150.08" stroke="#de4248" stroke-width="1.05"/>
<line x1="422.33" y1="119.04" x2="422.33" y2="128.39" stroke="#444" stroke-width="0.75"/>
<line x1="421.33" y1="119.04" x2="423.33" y2="119.04" stroke="#555" stroke-width="0.6"/>
<line x1="421.33" y1="128.39" x2="423.33" y2="128.39" stroke="#555" stroke-width="0.6"/>
<line x1="486.71" y1="127.74" x2="486.71" y2="133.35" stroke="#444" stroke-width="0.75"/>
<line x1="485.71" y1="127.74" x2="487.71" y2="127.74" stroke="#555" stroke-width="0.6"/>
<line x1="485.71" y1="133.35" x2="487.71" y2="133.35" stroke="#555" stroke-width="0.6"/>
<line x1="422.33" y1="120.91" x2="422.33" y2="126.52" stroke="#444" stroke-width="0.75"/>
<line x1="421.33" y1="120.91" x2="423.33" y2="120.91" stroke="#555" stroke-width="0.6"/>
<line x1="421.33" y1="126.52" x2="423.33" y2="126.52" stroke="#555" stroke-width="0.6"/>
<line x1="486.71" y1="148.68" x2="486.71" y2="151.48" stroke="#444" stroke-width="0.75"/>
<line x1="485.71" y1="148.68" x2="487.71" y2="148.68" stroke="#555" stroke-width="0.6"/>
<line x1="485.71" y1="151.48" x2="487.71" y2="151.48" stroke="#555" stroke-width="0.6"/>
<polygon points="420.83,125.02 423.83,125.02 422.33,122.22" fill="#8a1820"/>
<polygon points="485.21,151.38 488.21,151.38 486.71,148.58" fill="#8a1820"/>
<rect x="421.03" y="122.42" width="2.6" height="2.6" fill="#111"/>
<rect x="485.41" y="129.24" width="2.6" height="2.6" fill="#111"/>
</g>
<text x="253.3" y="99.60" font-size="6.6" fill="#2a2a2a" stroke="#2a2a2a" stroke-width="0.15" text-anchor="end">13</text>
<text x="253.3" y="108.95" font-size="6.6" fill="#2a2a2a" stroke="#2a2a2a" stroke-width="0.15" text-anchor="end">12</text>
<text x="253.3" y="118.30" font-size="6.6" fill="#2a2a2a" stroke="#2a2a2a" stroke-width="0.15" text-anchor="end">11</text>
<text x="253.3" y="127.65" font-size="6.6" fill="#2a2a2a" stroke="#2a2a2a" stroke-width="0.15" text-anchor="end">10</text>
<text x="253.3" y="137.00" font-size="6.6" fill="#2a2a2a" stroke="#2a2a2a" stroke-width="0.15" text-anchor="end">9</text>
<text x="253.3" y="146.35" font-size="6.6" fill="#2a2a2a" stroke="#2a2a2a" stroke-width="0.15" text-anchor="end">8</text>
<text x="253.3" y="155.70" font-size="6.6" fill="#2a2a2a" stroke="#2a2a2a" stroke-width="0.15" text-anchor="end">7</text>
<text x="253.3" y="165.05" font-size="6.6" fill="#2a2a2a" stroke="#2a2a2a" stroke-width="0.15" text-anchor="end">6</text>
<text x="253.3" y="174.40" font-size="6.6" fill="#2a2a2a" stroke="#2a2a2a" stroke-width="0.15" text-anchor="end">5</text>
<g>
<line x1="256.4" y1="189.74" x2="384.4" y2="189.74" stroke="#f8f8f8" stroke-width="1"/>
<line x1="256.4" y1="199.03" x2="384.4" y2="199.03" stroke="#f8f8f8" stroke-width="1"/>
<line x1="256.4" y1="208.32" x2="384.4" y2="208.32" stroke="#f8f8f8" stroke-width="1"/>
<line x1="256.4" y1="217.61" x2="384.4" y2="217.61" stroke="#f8f8f8" stroke-width="1"/>
<line x1="256.4" y1="226.89" x2="384.4" y2="226.89" stroke="#f8f8f8" stroke-width="1"/>
<line x1="256.4" y1="236.18" x2="384.4" y2="236.18" stroke="#f8f8f8" stroke-width="1"/>
<line x1="256.4" y1="245.47" x2="384.4" y2="245.47" stroke="#f8f8f8" stroke-width="1"/>
<line x1="256.4" y1="254.76" x2="384.4" y2="254.76" stroke="#f8f8f8" stroke-width="1"/>
<line x1="256.4" y1="194.39" x2="384.4" y2="194.39" stroke="#ebebeb" stroke-width="1.5"/>
<line x1="256.4" y1="203.67" x2="384.4" y2="203.67" stroke="#ebebeb" stroke-width="1.5"/>
<line x1="256.4" y1="212.96" x2="384.4" y2="212.96" stroke="#ebebeb" stroke-width="1.5"/>
<line x1="256.4" y1="222.25" x2="384.4" y2="222.25" stroke="#ebebeb" stroke-width="1.5"/>
<line x1="256.4" y1="231.54" x2="384.4" y2="231.54" stroke="#ebebeb" stroke-width="1.5"/>
<line x1="256.4" y1="240.82" x2="384.4" y2="240.82" stroke="#ebebeb" stroke-width="1.5"/>
<line x1="256.4" y1="250.11" x2="384.4" y2="250.11" stroke="#ebebeb" stroke-width="1.5"/>
<rect x="256.4" y="185.1" width="128.0" height="74.29999999999998" fill="none" stroke="#d6d6d6" stroke-width="1.3"/>
<line x1="288.53" y1="202.00" x2="352.91" y2="218.35" stroke="#383838" stroke-width="1.15"/>
<line x1="288.53" y1="231.54" x2="352.91" y2="242.50" stroke="#de4248" stroke-width="1.05"/>
<line x1="288.53" y1="197.36" x2="288.53" y2="206.65" stroke="#444" stroke-width="0.75"/>
<line x1="287.53" y1="197.36" x2="289.53" y2="197.36" stroke="#555" stroke-width="0.6"/>
<line x1="287.53" y1="206.65" x2="289.53" y2="206.65" stroke="#555" stroke-width="0.6"/>
<line x1="352.91" y1="215.56" x2="352.91" y2="221.14" stroke="#444" stroke-width="0.75"/>
<line x1="351.91" y1="215.56" x2="353.91" y2="215.56" stroke="#555" stroke-width="0.6"/>
<line x1="351.91" y1="221.14" x2="353.91" y2="221.14" stroke="#555" stroke-width="0.6"/>
<line x1="288.53" y1="227.82" x2="288.53" y2="235.25" stroke="#444" stroke-width="0.75"/>
<line x1="287.53" y1="227.82" x2="289.53" y2="227.82" stroke="#555" stroke-width="0.6"/>
<line x1="287.53" y1="235.25" x2="289.53" y2="235.25" stroke="#555" stroke-width="0.6"/>
<line x1="352.91" y1="240.64" x2="352.91" y2="244.35" stroke="#444" stroke-width="0.75"/>
<line x1="351.91" y1="240.64" x2="353.91" y2="240.64" stroke="#555" stroke-width="0.6"/>
<line x1="351.91" y1="244.35" x2="353.91" y2="244.35" stroke="#555" stroke-width="0.6"/>
<polygon points="287.03,232.84 290.03,232.84 288.53,230.04" fill="#8a1820"/>
<polygon points="351.41,243.80 354.41,243.80 352.91,241.00" fill="#8a1820"/>
<rect x="287.23" y="200.70" width="2.6" height="2.6" fill="#111"/>
<rect x="351.61" y="217.05" width="2.6" height="2.6" fill="#111"/>
</g>
<g>
<line x1="390.2" y1="189.74" x2="518.2" y2="189.74" stroke="#f8f8f8" stroke-width="1"/>
<line x1="390.2" y1="199.03" x2="518.2" y2="199.03" stroke="#f8f8f8" stroke-width="1"/>
<line x1="390.2" y1="208.32" x2="518.2" y2="208.32" stroke="#f8f8f8" stroke-width="1"/>
<line x1="390.2" y1="217.61" x2="518.2" y2="217.61" stroke="#f8f8f8" stroke-width="1"/>
<line x1="390.2" y1="226.89" x2="518.2" y2="226.89" stroke="#f8f8f8" stroke-width="1"/>
<line x1="390.2" y1="236.18" x2="518.2" y2="236.18" stroke="#f8f8f8" stroke-width="1"/>
<line x1="390.2" y1="245.47" x2="518.2" y2="245.47" stroke="#f8f8f8" stroke-width="1"/>
<line x1="390.2" y1="254.76" x2="518.2" y2="254.76" stroke="#f8f8f8" stroke-width="1"/>
<line x1="390.2" y1="194.39" x2="518.2" y2="194.39" stroke="#ebebeb" stroke-width="1.5"/>
<line x1="390.2" y1="203.67" x2="518.2" y2="203.67" stroke="#ebebeb" stroke-width="1.5"/>
<line x1="390.2" y1="212.96" x2="518.2" y2="212.96" stroke="#ebebeb" stroke-width="1.5"/>
<line x1="390.2" y1="222.25" x2="518.2" y2="222.25" stroke="#ebebeb" stroke-width="1.5"/>
<line x1="390.2" y1="231.54" x2="518.2" y2="231.54" stroke="#ebebeb" stroke-width="1.5"/>
<line x1="390.2" y1="240.82" x2="518.2" y2="240.82" stroke="#ebebeb" stroke-width="1.5"/>
<line x1="390.2" y1="250.11" x2="518.2" y2="250.11" stroke="#ebebeb" stroke-width="1.5"/>
<rect x="390.2" y="185.1" width="128.00000000000006" height="74.29999999999998" fill="none" stroke="#d6d6d6" stroke-width="1.3"/>
<line x1="422.33" y1="218.72" x2="486.71" y2="240.64" stroke="#383838" stroke-width="1.15"/>
<line x1="422.33" y1="238.22" x2="486.71" y2="253.27" stroke="#de4248" stroke-width="1.05"/>
<line x1="422.33" y1="215.93" x2="422.33" y2="221.51" stroke="#444" stroke-width="0.75"/>
<line x1="421.33" y1="215.93" x2="423.33" y2="215.93" stroke="#555" stroke-width="0.6"/>
<line x1="421.33" y1="221.51" x2="423.33" y2="221.51" stroke="#555" stroke-width="0.6"/>
<line x1="486.71" y1="236.00" x2="486.71" y2="245.28" stroke="#444" stroke-width="0.75"/>
<line x1="485.71" y1="236.00" x2="487.71" y2="236.00" stroke="#555" stroke-width="0.6"/>
<line x1="485.71" y1="245.28" x2="487.71" y2="245.28" stroke="#555" stroke-width="0.6"/>
<line x1="422.33" y1="236.83" x2="422.33" y2="239.62" stroke="#444" stroke-width="0.75"/>
<line x1="421.33" y1="236.83" x2="423.33" y2="236.83" stroke="#555" stroke-width="0.6"/>
<line x1="421.33" y1="239.62" x2="423.33" y2="239.62" stroke="#555" stroke-width="0.6"/>
<line x1="486.71" y1="251.88" x2="486.71" y2="254.66" stroke="#444" stroke-width="0.75"/>
<line x1="485.71" y1="251.88" x2="487.71" y2="251.88" stroke="#555" stroke-width="0.6"/>
<line x1="485.71" y1="254.66" x2="487.71" y2="254.66" stroke="#555" stroke-width="0.6"/>
<polygon points="420.83,239.52 423.83,239.52 422.33,236.72" fill="#8a1820"/>
<polygon points="485.21,254.57 488.21,254.57 486.71,251.77" fill="#8a1820"/>
<rect x="421.03" y="217.42" width="2.6" height="2.6" fill="#111"/>
<rect x="485.41" y="239.34" width="2.6" height="2.6" fill="#111"/>
</g>
<text x="253.3" y="188.10" font-size="6.6" fill="#2a2a2a" stroke="#2a2a2a" stroke-width="0.15" text-anchor="end">13</text>
<text x="253.3" y="197.39" font-size="6.6" fill="#2a2a2a" stroke="#2a2a2a" stroke-width="0.15" text-anchor="end">12</text>
<text x="253.3" y="206.67" font-size="6.6" fill="#2a2a2a" stroke="#2a2a2a" stroke-width="0.15" text-anchor="end">11</text>
<text x="253.3" y="215.96" font-size="6.6" fill="#2a2a2a" stroke="#2a2a2a" stroke-width="0.15" text-anchor="end">10</text>
<text x="253.3" y="225.25" font-size="6.6" fill="#2a2a2a" stroke="#2a2a2a" stroke-width="0.15" text-anchor="end">9</text>
<text x="253.3" y="234.54" font-size="6.6" fill="#2a2a2a" stroke="#2a2a2a" stroke-width="0.15" text-anchor="end">8</text>
<text x="253.3" y="243.82" font-size="6.6" fill="#2a2a2a" stroke="#2a2a2a" stroke-width="0.15" text-anchor="end">7</text>
<text x="253.3" y="253.11" font-size="6.6" fill="#2a2a2a" stroke="#2a2a2a" stroke-width="0.15" text-anchor="end">6</text>
<text x="253.3" y="262.40" font-size="6.6" fill="#2a2a2a" stroke="#2a2a2a" stroke-width="0.15" text-anchor="end">5</text>
<g>
<line x1="256.4" y1="279.07" x2="384.4" y2="279.07" stroke="#f8f8f8" stroke-width="1"/>
<line x1="256.4" y1="288.42" x2="384.4" y2="288.42" stroke="#f8f8f8" stroke-width="1"/>
<line x1="256.4" y1="297.77" x2="384.4" y2="297.77" stroke="#f8f8f8" stroke-width="1"/>
<line x1="256.4" y1="307.12" x2="384.4" y2="307.12" stroke="#f8f8f8" stroke-width="1"/>
<line x1="256.4" y1="316.47" x2="384.4" y2="316.47" stroke="#f8f8f8" stroke-width="1"/>
<line x1="256.4" y1="325.82" x2="384.4" y2="325.82" stroke="#f8f8f8" stroke-width="1"/>
<line x1="256.4" y1="335.17" x2="384.4" y2="335.17" stroke="#f8f8f8" stroke-width="1"/>
<line x1="256.4" y1="344.52" x2="384.4" y2="344.52" stroke="#f8f8f8" stroke-width="1"/>
<line x1="256.4" y1="283.75" x2="384.4" y2="283.75" stroke="#ebebeb" stroke-width="1.5"/>
<line x1="256.4" y1="293.10" x2="384.4" y2="293.10" stroke="#ebebeb" stroke-width="1.5"/>
<line x1="256.4" y1="302.45" x2="384.4" y2="302.45" stroke="#ebebeb" stroke-width="1.5"/>
<line x1="256.4" y1="311.80" x2="384.4" y2="311.80" stroke="#ebebeb" stroke-width="1.5"/>
<line x1="256.4" y1="321.15" x2="384.4" y2="321.15" stroke="#ebebeb" stroke-width="1.5"/>
<line x1="256.4" y1="330.50" x2="384.4" y2="330.50" stroke="#ebebeb" stroke-width="1.5"/>
<line x1="256.4" y1="339.85" x2="384.4" y2="339.85" stroke="#ebebeb" stroke-width="1.5"/>
<rect x="256.4" y="274.4" width="128.0" height="74.80000000000001" fill="none" stroke="#d6d6d6" stroke-width="1.3"/>
<line x1="288.53" y1="291.23" x2="352.91" y2="310.49" stroke="#383838" stroke-width="1.15"/>
<line x1="288.53" y1="321.24" x2="352.91" y2="339.29" stroke="#de4248" stroke-width="1.05"/>
<line x1="288.53" y1="287.02" x2="288.53" y2="295.44" stroke="#444" stroke-width="0.75"/>
<line x1="287.53" y1="287.02" x2="289.53" y2="287.02" stroke="#555" stroke-width="0.6"/>
<line x1="287.53" y1="295.44" x2="289.53" y2="295.44" stroke="#555" stroke-width="0.6"/>
<line x1="352.91" y1="307.69" x2="352.91" y2="313.30" stroke="#444" stroke-width="0.75"/>
<line x1="351.91" y1="307.69" x2="353.91" y2="307.69" stroke="#555" stroke-width="0.6"/>
<line x1="351.91" y1="313.30" x2="353.91" y2="313.30" stroke="#555" stroke-width="0.6"/>
<line x1="288.53" y1="317.04" x2="288.53" y2="325.45" stroke="#444" stroke-width="0.75"/>
<line x1="287.53" y1="317.04" x2="289.53" y2="317.04" stroke="#555" stroke-width="0.6"/>
<line x1="287.53" y1="325.45" x2="289.53" y2="325.45" stroke="#555" stroke-width="0.6"/>
<line x1="352.91" y1="335.55" x2="352.91" y2="343.03" stroke="#444" stroke-width="0.75"/>
<line x1="351.91" y1="335.55" x2="353.91" y2="335.55" stroke="#555" stroke-width="0.6"/>
<line x1="351.91" y1="343.03" x2="353.91" y2="343.03" stroke="#555" stroke-width="0.6"/>
<polygon points="287.03,322.54 290.03,322.54 288.53,319.74" fill="#8a1820"/>
<polygon points="351.41,340.59 354.41,340.59 352.91,337.79" fill="#8a1820"/>
<rect x="287.23" y="289.93" width="2.6" height="2.6" fill="#111"/>
<rect x="351.61" y="309.19" width="2.6" height="2.6" fill="#111"/>
</g>
<g>
<line x1="390.2" y1="279.07" x2="518.2" y2="279.07" stroke="#f8f8f8" stroke-width="1"/>
<line x1="390.2" y1="288.42" x2="518.2" y2="288.42" stroke="#f8f8f8" stroke-width="1"/>
<line x1="390.2" y1="297.77" x2="518.2" y2="297.77" stroke="#f8f8f8" stroke-width="1"/>
<line x1="390.2" y1="307.12" x2="518.2" y2="307.12" stroke="#f8f8f8" stroke-width="1"/>
<line x1="390.2" y1="316.47" x2="518.2" y2="316.47" stroke="#f8f8f8" stroke-width="1"/>
<line x1="390.2" y1="325.82" x2="518.2" y2="325.82" stroke="#f8f8f8" stroke-width="1"/>
<line x1="390.2" y1="335.17" x2="518.2" y2="335.17" stroke="#f8f8f8" stroke-width="1"/>
<line x1="390.2" y1="344.52" x2="518.2" y2="344.52" stroke="#f8f8f8" stroke-width="1"/>
<line x1="390.2" y1="283.75" x2="518.2" y2="283.75" stroke="#ebebeb" stroke-width="1.5"/>
<line x1="390.2" y1="293.10" x2="518.2" y2="293.10" stroke="#ebebeb" stroke-width="1.5"/>
<line x1="390.2" y1="302.45" x2="518.2" y2="302.45" stroke="#ebebeb" stroke-width="1.5"/>
<line x1="390.2" y1="311.80" x2="518.2" y2="311.80" stroke="#ebebeb" stroke-width="1.5"/>
<line x1="390.2" y1="321.15" x2="518.2" y2="321.15" stroke="#ebebeb" stroke-width="1.5"/>
<line x1="390.2" y1="330.50" x2="518.2" y2="330.50" stroke="#ebebeb" stroke-width="1.5"/>
<line x1="390.2" y1="339.85" x2="518.2" y2="339.85" stroke="#ebebeb" stroke-width="1.5"/>
<rect x="390.2" y="274.4" width="128.00000000000006" height="74.80000000000001" fill="none" stroke="#d6d6d6" stroke-width="1.3"/>
<line x1="422.33" y1="307.50" x2="486.71" y2="333.02" stroke="#383838" stroke-width="1.15"/>
<line x1="422.33" y1="327.23" x2="486.71" y2="343.03" stroke="#de4248" stroke-width="1.05"/>
<line x1="422.33" y1="304.69" x2="422.33" y2="310.30" stroke="#444" stroke-width="0.75"/>
<line x1="421.33" y1="304.69" x2="423.33" y2="304.69" stroke="#555" stroke-width="0.6"/>
<line x1="421.33" y1="310.30" x2="423.33" y2="310.30" stroke="#555" stroke-width="0.6"/>
<line x1="486.71" y1="328.35" x2="486.71" y2="337.70" stroke="#444" stroke-width="0.75"/>
<line x1="485.71" y1="328.35" x2="487.71" y2="328.35" stroke="#555" stroke-width="0.6"/>
<line x1="485.71" y1="337.70" x2="487.71" y2="337.70" stroke="#555" stroke-width="0.6"/>
<line x1="422.33" y1="325.82" x2="422.33" y2="328.63" stroke="#444" stroke-width="0.75"/>
<line x1="421.33" y1="325.82" x2="423.33" y2="325.82" stroke="#555" stroke-width="0.6"/>
<line x1="421.33" y1="328.63" x2="423.33" y2="328.63" stroke="#555" stroke-width="0.6"/>
<line x1="486.71" y1="339.29" x2="486.71" y2="346.77" stroke="#444" stroke-width="0.75"/>
<line x1="485.71" y1="339.29" x2="487.71" y2="339.29" stroke="#555" stroke-width="0.6"/>
<line x1="485.71" y1="346.77" x2="487.71" y2="346.77" stroke="#555" stroke-width="0.6"/>
<polygon points="420.83,328.53 423.83,328.53 422.33,325.73" fill="#8a1820"/>
<polygon points="485.21,344.33 488.21,344.33 486.71,341.53" fill="#8a1820"/>
<rect x="421.03" y="306.20" width="2.6" height="2.6" fill="#111"/>
<rect x="485.41" y="331.72" width="2.6" height="2.6" fill="#111"/>
</g>
<text x="253.3" y="277.40" font-size="6.6" fill="#2a2a2a" stroke="#2a2a2a" stroke-width="0.15" text-anchor="end">13</text>
<text x="253.3" y="286.75" font-size="6.6" fill="#2a2a2a" stroke="#2a2a2a" stroke-width="0.15" text-anchor="end">12</text>
<text x="253.3" y="296.10" font-size="6.6" fill="#2a2a2a" stroke="#2a2a2a" stroke-width="0.15" text-anchor="end">11</text>
<text x="253.3" y="305.45" font-size="6.6" fill="#2a2a2a" stroke="#2a2a2a" stroke-width="0.15" text-anchor="end">10</text>
<text x="253.3" y="314.80" font-size="6.6" fill="#2a2a2a" stroke="#2a2a2a" stroke-width="0.15" text-anchor="end">9</text>
<text x="253.3" y="324.15" font-size="6.6" fill="#2a2a2a" stroke="#2a2a2a" stroke-width="0.15" text-anchor="end">8</text>
<text x="253.3" y="333.50" font-size="6.6" fill="#2a2a2a" stroke="#2a2a2a" stroke-width="0.15" text-anchor="end">7</text>
<text x="253.3" y="342.85" font-size="6.6" fill="#2a2a2a" stroke="#2a2a2a" stroke-width="0.15" text-anchor="end">6</text>
<text x="253.3" y="352.20" font-size="6.6" fill="#2a2a2a" stroke="#2a2a2a" stroke-width="0.15" text-anchor="end">5</text>
<g>
<line x1="256.4" y1="372.01" x2="384.4" y2="372.01" stroke="#f8f8f8" stroke-width="1"/>
<line x1="256.4" y1="381.22" x2="384.4" y2="381.22" stroke="#f8f8f8" stroke-width="1"/>
<line x1="256.4" y1="390.43" x2="384.4" y2="390.43" stroke="#f8f8f8" stroke-width="1"/>
<line x1="256.4" y1="399.64" x2="384.4" y2="399.64" stroke="#f8f8f8" stroke-width="1"/>
<line x1="256.4" y1="408.86" x2="384.4" y2="408.86" stroke="#f8f8f8" stroke-width="1"/>
<line x1="256.4" y1="418.07" x2="384.4" y2="418.07" stroke="#f8f8f8" stroke-width="1"/>
<line x1="256.4" y1="427.28" x2="384.4" y2="427.28" stroke="#f8f8f8" stroke-width="1"/>
<line x1="256.4" y1="436.49" x2="384.4" y2="436.49" stroke="#f8f8f8" stroke-width="1"/>
<line x1="256.4" y1="376.61" x2="384.4" y2="376.61" stroke="#ebebeb" stroke-width="1.5"/>
<line x1="256.4" y1="385.82" x2="384.4" y2="385.82" stroke="#ebebeb" stroke-width="1.5"/>
<line x1="256.4" y1="395.04" x2="384.4" y2="395.04" stroke="#ebebeb" stroke-width="1.5"/>
<line x1="256.4" y1="404.25" x2="384.4" y2="404.25" stroke="#ebebeb" stroke-width="1.5"/>
<line x1="256.4" y1="413.46" x2="384.4" y2="413.46" stroke="#ebebeb" stroke-width="1.5"/>
<line x1="256.4" y1="422.68" x2="384.4" y2="422.68" stroke="#ebebeb" stroke-width="1.5"/>
<line x1="256.4" y1="431.89" x2="384.4" y2="431.89" stroke="#ebebeb" stroke-width="1.5"/>
<rect x="256.4" y="367.4" width="128.0" height="73.70000000000005" fill="none" stroke="#d6d6d6" stroke-width="1.3"/>
<line x1="288.53" y1="383.43" x2="352.91" y2="378.64" stroke="#383838" stroke-width="1.15"/>
<line x1="288.53" y1="413.00" x2="352.91" y2="413.00" stroke="#de4248" stroke-width="1.05"/>
<line x1="288.53" y1="379.28" x2="288.53" y2="387.58" stroke="#444" stroke-width="0.75"/>
<line x1="287.53" y1="379.28" x2="289.53" y2="379.28" stroke="#555" stroke-width="0.6"/>
<line x1="287.53" y1="387.58" x2="289.53" y2="387.58" stroke="#555" stroke-width="0.6"/>
<line x1="352.91" y1="376.34" x2="352.91" y2="380.94" stroke="#444" stroke-width="0.75"/>
<line x1="351.91" y1="376.34" x2="353.91" y2="376.34" stroke="#555" stroke-width="0.6"/>
<line x1="351.91" y1="380.94" x2="353.91" y2="380.94" stroke="#555" stroke-width="0.6"/>
<line x1="288.53" y1="409.32" x2="288.53" y2="416.69" stroke="#444" stroke-width="0.75"/>
<line x1="287.53" y1="409.32" x2="289.53" y2="409.32" stroke="#555" stroke-width="0.6"/>
<line x1="287.53" y1="416.69" x2="289.53" y2="416.69" stroke="#555" stroke-width="0.6"/>
<line x1="352.91" y1="410.24" x2="352.91" y2="415.77" stroke="#444" stroke-width="0.75"/>
<line x1="351.91" y1="410.24" x2="353.91" y2="410.24" stroke="#555" stroke-width="0.6"/>
<line x1="351.91" y1="415.77" x2="353.91" y2="415.77" stroke="#555" stroke-width="0.6"/>
<polygon points="287.03,414.30 290.03,414.30 288.53,411.50" fill="#8a1820"/>
<polygon points="351.41,414.30 354.41,414.30 352.91,411.50" fill="#8a1820"/>
<rect x="287.23" y="382.13" width="2.6" height="2.6" fill="#111"/>
<rect x="351.61" y="377.34" width="2.6" height="2.6" fill="#111"/>
</g>
<g>
<line x1="390.2" y1="372.01" x2="518.2" y2="372.01" stroke="#f8f8f8" stroke-width="1"/>
<line x1="390.2" y1="381.22" x2="518.2" y2="381.22" stroke="#f8f8f8" stroke-width="1"/>
<line x1="390.2" y1="390.43" x2="518.2" y2="390.43" stroke="#f8f8f8" stroke-width="1"/>
<line x1="390.2" y1="399.64" x2="518.2" y2="399.64" stroke="#f8f8f8" stroke-width="1"/>
<line x1="390.2" y1="408.86" x2="518.2" y2="408.86" stroke="#f8f8f8" stroke-width="1"/>
<line x1="390.2" y1="418.07" x2="518.2" y2="418.07" stroke="#f8f8f8" stroke-width="1"/>
<line x1="390.2" y1="427.28" x2="518.2" y2="427.28" stroke="#f8f8f8" stroke-width="1"/>
<line x1="390.2" y1="436.49" x2="518.2" y2="436.49" stroke="#f8f8f8" stroke-width="1"/>
<line x1="390.2" y1="376.61" x2="518.2" y2="376.61" stroke="#ebebeb" stroke-width="1.5"/>
<line x1="390.2" y1="385.82" x2="518.2" y2="385.82" stroke="#ebebeb" stroke-width="1.5"/>
<line x1="390.2" y1="395.04" x2="518.2" y2="395.04" stroke="#ebebeb" stroke-width="1.5"/>
<line x1="390.2" y1="404.25" x2="518.2" y2="404.25" stroke="#ebebeb" stroke-width="1.5"/>
<line x1="390.2" y1="413.46" x2="518.2" y2="413.46" stroke="#ebebeb" stroke-width="1.5"/>
<line x1="390.2" y1="422.68" x2="518.2" y2="422.68" stroke="#ebebeb" stroke-width="1.5"/>
<line x1="390.2" y1="431.89" x2="518.2" y2="431.89" stroke="#ebebeb" stroke-width="1.5"/>
<rect x="390.2" y="367.4" width="128.00000000000006" height="73.70000000000005" fill="none" stroke="#d6d6d6" stroke-width="1.3"/>
<line x1="422.33" y1="400.20" x2="486.71" y2="409.32" stroke="#383838" stroke-width="1.15"/>
<line x1="422.33" y1="418.71" x2="486.71" y2="407.94" stroke="#de4248" stroke-width="1.05"/>
<line x1="422.33" y1="397.43" x2="422.33" y2="402.96" stroke="#444" stroke-width="0.75"/>
<line x1="421.33" y1="397.43" x2="423.33" y2="397.43" stroke="#555" stroke-width="0.6"/>
<line x1="421.33" y1="402.96" x2="423.33" y2="402.96" stroke="#555" stroke-width="0.6"/>
<line x1="486.71" y1="404.71" x2="486.71" y2="413.92" stroke="#444" stroke-width="0.75"/>
<line x1="485.71" y1="404.71" x2="487.71" y2="404.71" stroke="#555" stroke-width="0.6"/>
<line x1="485.71" y1="413.92" x2="487.71" y2="413.92" stroke="#555" stroke-width="0.6"/>
<line x1="422.33" y1="417.33" x2="422.33" y2="420.10" stroke="#444" stroke-width="0.75"/>
<line x1="421.33" y1="417.33" x2="423.33" y2="417.33" stroke="#555" stroke-width="0.6"/>
<line x1="421.33" y1="420.10" x2="423.33" y2="420.10" stroke="#555" stroke-width="0.6"/>
<line x1="486.71" y1="404.71" x2="486.71" y2="411.16" stroke="#444" stroke-width="0.75"/>
<line x1="485.71" y1="404.71" x2="487.71" y2="404.71" stroke="#555" stroke-width="0.6"/>
<line x1="485.71" y1="411.16" x2="487.71" y2="411.16" stroke="#555" stroke-width="0.6"/>
<polygon points="420.83,420.01 423.83,420.01 422.33,417.21" fill="#8a1820"/>
<polygon points="485.21,409.24 488.21,409.24 486.71,406.44" fill="#8a1820"/>
<rect x="421.03" y="398.90" width="2.6" height="2.6" fill="#111"/>
<rect x="485.41" y="408.02" width="2.6" height="2.6" fill="#111"/>
</g>
<text x="253.3" y="370.40" font-size="6.6" fill="#2a2a2a" stroke="#2a2a2a" stroke-width="0.15" text-anchor="end">13</text>
<text x="253.3" y="379.61" font-size="6.6" fill="#2a2a2a" stroke="#2a2a2a" stroke-width="0.15" text-anchor="end">12</text>
<text x="253.3" y="388.82" font-size="6.6" fill="#2a2a2a" stroke="#2a2a2a" stroke-width="0.15" text-anchor="end">11</text>
<text x="253.3" y="398.04" font-size="6.6" fill="#2a2a2a" stroke="#2a2a2a" stroke-width="0.15" text-anchor="end">10</text>
<text x="253.3" y="407.25" font-size="6.6" fill="#2a2a2a" stroke="#2a2a2a" stroke-width="0.15" text-anchor="end">9</text>
<text x="253.3" y="416.46" font-size="6.6" fill="#2a2a2a" stroke="#2a2a2a" stroke-width="0.15" text-anchor="end">8</text>
<text x="253.3" y="425.68" font-size="6.6" fill="#2a2a2a" stroke="#2a2a2a" stroke-width="0.15" text-anchor="end">7</text>
<text x="253.3" y="434.89" font-size="6.6" fill="#2a2a2a" stroke="#2a2a2a" stroke-width="0.15" text-anchor="end">6</text>
<text x="253.3" y="444.10" font-size="6.6" fill="#2a2a2a" stroke="#2a2a2a" stroke-width="0.15" text-anchor="end">5</text>
<text x="242" y="131.5" font-size="6.1" fill="#2a2a2a" stroke="#2a2a2a" stroke-width="0.12" text-anchor="middle" textLength="50.5" lengthAdjust="spacingAndGlyphs" transform="rotate(-90 242 131.5)">Telomere Length (kb)</text>
<text x="242" y="222.0" font-size="6.1" fill="#2a2a2a" stroke="#2a2a2a" stroke-width="0.12" text-anchor="middle" textLength="50.5" lengthAdjust="spacingAndGlyphs" transform="rotate(-90 242 222.0)">Telomere Length (kb)</text>
<text x="242" y="309.7" font-size="6.1" fill="#2a2a2a" stroke="#2a2a2a" stroke-width="0.12" text-anchor="middle" textLength="50.5" lengthAdjust="spacingAndGlyphs" transform="rotate(-90 242 309.7)">Telomere Length (kb)</text>
<text x="242" y="402.6" font-size="6.1" fill="#2a2a2a" stroke="#2a2a2a" stroke-width="0.12" text-anchor="middle" textLength="50.5" lengthAdjust="spacingAndGlyphs" transform="rotate(-90 242 402.6)">Telomere Length (kb)</text>
<text x="267.5" y="177.9" font-size="6.3" fill="#222" stroke="#222" stroke-width="0.12" textLength="46.3" lengthAdjust="spacingAndGlyphs">Lin<tspan font-size="4.4" dy="-2.2">-</tspan><tspan dy="2.2">CD34</tspan><tspan font-size="4.4" dy="-2.2">+</tspan><tspan dy="2.2">CD38</tspan><tspan font-size="4.4" dy="-2.2">-</tspan><tspan dy="2.2">Rho</tspan></text>
<text x="341.0" y="177.9" font-size="6.3" fill="#222" stroke="#222" stroke-width="0.12" textLength="31.5" lengthAdjust="spacingAndGlyphs">CD34<tspan font-size="4.4" dy="-2.2">+</tspan><tspan dy="2.2">CD38</tspan><tspan font-size="4.4" dy="-2.2">+</tspan></text>
<text x="402.0" y="177.9" font-size="6.3" fill="#222" stroke="#222" stroke-width="0.12" textLength="46.7" lengthAdjust="spacingAndGlyphs">Lin<tspan font-size="4.4" dy="-2.2">-</tspan><tspan dy="2.2">CD34</tspan><tspan font-size="4.4" dy="-2.2">+</tspan><tspan dy="2.2">CD38</tspan><tspan font-size="4.4" dy="-2.2">-</tspan><tspan dy="2.2">Rho</tspan></text>
<text x="475.0" y="177.9" font-size="6.3" fill="#222" stroke="#222" stroke-width="0.12" textLength="30.0" lengthAdjust="spacingAndGlyphs">CD34<tspan font-size="4.4" dy="-2.2">+</tspan><tspan dy="2.2">CD38</tspan><tspan font-size="4.4" dy="-2.2">+</tspan></text>
<text x="276.0" y="265.9" font-size="6.3" fill="#222" stroke="#222" stroke-width="0.12" textLength="31.2" lengthAdjust="spacingAndGlyphs">CD34<tspan font-size="4.4" dy="-2.2">+</tspan><tspan dy="2.2">CD38</tspan><tspan font-size="4.4" dy="-2.2">+</tspan></text>
<text x="334.8" y="265.9" font-size="6.3" fill="#222" stroke="#222" stroke-width="0.12" textLength="26.2" lengthAdjust="spacingAndGlyphs">CD15/66b<tspan font-size="4.4" dy="-2.2">+</tspan></text>
<text x="410.5" y="265.9" font-size="6.3" fill="#222" stroke="#222" stroke-width="0.12" textLength="30.8" lengthAdjust="spacingAndGlyphs">CD34<tspan font-size="4.4" dy="-2.2">+</tspan><tspan dy="2.2">CD38</tspan><tspan font-size="4.4" dy="-2.2">+</tspan></text>
<text x="468.0" y="265.9" font-size="6.3" fill="#222" stroke="#222" stroke-width="0.12" textLength="25.8" lengthAdjust="spacingAndGlyphs">CD15/66b<tspan font-size="4.4" dy="-2.2">+</tspan></text>
<text x="280.5" y="355.7" font-size="6.3" fill="#222" stroke="#222" stroke-width="0.12" textLength="29.2" lengthAdjust="spacingAndGlyphs">CD34<tspan font-size="4.4" dy="-2.2">+</tspan><tspan dy="2.2">CD38</tspan><tspan font-size="4.4" dy="-2.2">+</tspan></text>
<text x="340.2" y="355.7" font-size="6.3" fill="#222" stroke="#222" stroke-width="0.12" textLength="12.0" lengthAdjust="spacingAndGlyphs">CD56<tspan font-size="4.4" dy="-2.2">+</tspan></text>
<text x="415.0" y="355.7" font-size="6.3" fill="#222" stroke="#222" stroke-width="0.12" textLength="29.5" lengthAdjust="spacingAndGlyphs">CD34<tspan font-size="4.4" dy="-2.2">+</tspan><tspan dy="2.2">CD38</tspan><tspan font-size="4.4" dy="-2.2">+</tspan></text>
<text x="475.0" y="355.7" font-size="6.3" fill="#222" stroke="#222" stroke-width="0.12" textLength="13.0" lengthAdjust="spacingAndGlyphs">CD56<tspan font-size="4.4" dy="-2.2">+</tspan></text>
<text x="280.5" y="447.6" font-size="6.3" fill="#222" stroke="#222" stroke-width="0.12" textLength="29.2" lengthAdjust="spacingAndGlyphs">CD34<tspan font-size="4.4" dy="-2.2">+</tspan><tspan dy="2.2">CD38</tspan><tspan font-size="4.4" dy="-2.2">+</tspan></text>
<text x="338.0" y="447.6" font-size="6.3" fill="#222" stroke="#222" stroke-width="0.12" textLength="21.8" lengthAdjust="spacingAndGlyphs">CD19/20<tspan font-size="4.4" dy="-2.2">+</tspan></text>
<text x="415.0" y="447.6" font-size="6.3" fill="#222" stroke="#222" stroke-width="0.12" textLength="29.5" lengthAdjust="spacingAndGlyphs">CD34<tspan font-size="4.4" dy="-2.2">+</tspan><tspan dy="2.2">CD38</tspan><tspan font-size="4.4" dy="-2.2">+</tspan></text>
<text x="472.5" y="447.6" font-size="6.3" fill="#222" stroke="#222" stroke-width="0.12" textLength="22.0" lengthAdjust="spacingAndGlyphs">CD19/20<tspan font-size="4.4" dy="-2.2">+</tspan></text>
</svg>
</body></html>
